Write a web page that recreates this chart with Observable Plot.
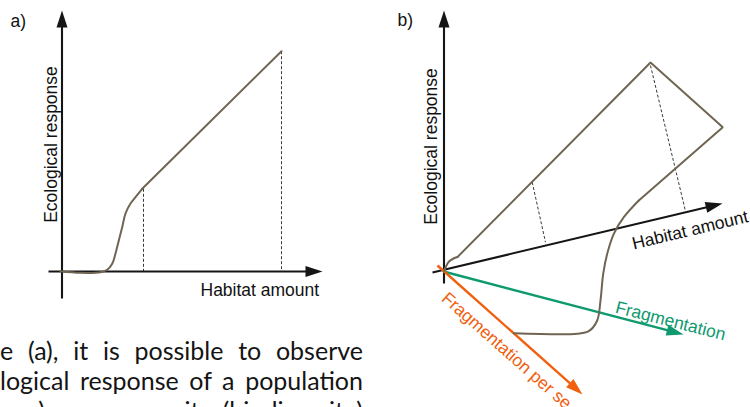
<!DOCTYPE html>
<html>
<head>
<meta charset="utf-8">
<script src="https://cdn.jsdelivr.net/npm/d3@7"></script>
<script src="https://cdn.jsdelivr.net/npm/@observablehq/plot@0.6"></script>
<style>
  html, body { margin: 0; padding: 0; background: #fff; }
  #wrap { position: relative; width: 750px; height: 407px; overflow: hidden; background: #fff; }
  #para { position: absolute; left: 0; top: 334.6px; width: 363px; font-family: Lato, "Noto Sans", sans-serif; font-size: 25px; line-height: 30px; color: #141414; }
  #para div { text-align: justify; text-align-last: justify; white-space: normal; height: 30px; }
</style>
</head>
<body>
<div id="wrap"></div>
<script>
// ---- Diagram data (diagram units) ----
// Axes: tail and tip
const axisNames = ["a-response", "a-habitat", "b-response", "b-habitat", "b-fragmentation", "b-fragperse"];
const axisX1 = [61.5, 48, 443.5, 432, 443, 437];
const axisY1 = [298, 271, 283, 272, 271, 265];
const axisX2 = [61.5, 322, 443.5, 722, 683, 582];
const axisY2 = [10, 271, 10, 203, 334, 394];

// Panel (a): sigmoid response then linear rise
const aSigX = [60, 80, 100, 106.7, 111.7, 115, 118.3, 121.7, 125, 130, 135, 141.7];
const aSigY = [270.7, 272.3, 271.7, 269.3, 263.3, 253, 240, 226.7, 213, 203, 196.7, 188.3];
const aLinX = [141.7, 281];
const aLinY = [188.3, 50.7];
const aDropX = [143, 143, 281, 281];
const aDropY = [188.3, 271, 50.7, 271];

// Panel (b): response surface outline
const bStartX = [443.5, 445.5, 448.5, 453, 457];
const bStartY = [271, 266, 261, 258, 256.5];
const bEdgeX = [457, 650, 722.3, 638.3];
const bEdgeY = [256.5, 62, 126.7, 200];
const bLowX = [638.3, 623.3, 613.3, 606.7, 602.7, 600, 596.7, 588.3, 576.7, 513.3];
const bLowY = [200, 216.7, 233.3, 253.3, 273.3, 300, 320, 330.7, 333.3, 332.7];
const bDropX = [531.7, 545, 650, 685];
const bDropY = [181.7, 241.7, 65, 210.7];

// Labels
const panelLabels = ["a)", "b)"];
const labelText = ["Ecological response", "Habitat amount", "Ecological response", "Habitat amount", "Fragmentation", "Fragmentation per se"];
const paragraphLines = ["e (a), it is possible to observe", "logical response of a population", "nce) or community (biodiversity)"];

// ---- Build tables ----
const axisColor = {"a-response": "#151515", "a-habitat": "#151515", "b-response": "#151515", "b-habitat": "#151515", "b-fragmentation": "#0e9a6e", "b-fragperse": "#f0600f"};
const HEAD_L = 17, HEAD_W = 5.5;
const axes = axisNames.map((n, i) => {
  const dx = axisX2[i] - axisX1[i], dy = axisY2[i] - axisY1[i];
  const len = Math.hypot(dx, dy), ux = dx / len, uy = dy / len;
  return {n, x1: axisX1[i], y1: axisY1[i], x2: axisX2[i], y2: axisY2[i], ux, uy};
});
const axisShafts = axes.map(a => ({n: a.n, x1: a.x1, y1: a.y1, x2: a.x2 - a.ux * (HEAD_L - 3), y2: a.y2 - a.uy * (HEAD_L - 3)}));
const heads = axes.flatMap(a => {
  const bx = a.x2 - a.ux * HEAD_L, by = a.y2 - a.uy * HEAD_L;
  const px = -a.uy, py = a.ux;
  return [
    {n: a.n, x: a.x2, y: a.y2},
    {n: a.n, x: bx + px * HEAD_W, y: by + py * HEAD_W},
    {n: a.n, x: bx - px * HEAD_W, y: by - py * HEAD_W}
  ];
});
const pts = (xs, ys) => xs.map((x, i) => ({x, y: ys[i]}));
const pairs = (xs, ys) => d3.range(0, xs.length, 2).map(i => ({x1: xs[i], y1: ys[i], x2: xs[i + 1], y2: ys[i + 1]}));

const labels = [
  {t: labelText[0], x: 56.7, y: 144, rotate: -90, anchor: "middle", color: "#111"},
  {t: labelText[1], x: 200, y: 295.7, rotate: 0, anchor: "start", color: "#111"},
  {t: labelText[2], x: 436.7, y: 146, rotate: -90, anchor: "middle", color: "#111"},
  {t: labelText[3], x: 633.3, y: 249, rotate: -13.5, anchor: "start", color: "#111"},
  {t: labelText[4], x: 614, y: 312, rotate: 14.3, anchor: "start", color: "#0e9a6e"},
  {t: labelText[5], x: 440, y: 299.5, rotate: 41.4, anchor: "start", color: "#f0600f"},
  {t: panelLabels[0], x: 10, y: 26, rotate: 0, anchor: "start", color: "#111"},
  {t: panelLabels[1], x: 397, y: 25.5, rotate: 0, anchor: "start", color: "#111"}
];

const brown = "#6f6552";
const FONT = "'Liberation Sans', Arial, sans-serif";

const chart = Plot.plot({
  width: 750,
  height: 407,
  margin: 0,
  x: {domain: [0, 750], range: [0, 750], axis: null},
  y: {domain: [0, 407], range: [0, 407], axis: null},
  style: {background: "transparent", overflow: "visible"},
  marks: [
    Plot.link(pairs(aDropX, aDropY), {x1: "x1", y1: "y1", x2: "x2", y2: "y2", stroke: "#222", strokeWidth: 0.9, strokeDasharray: "3,2"}),
    Plot.link(pairs(bDropX, bDropY), {x1: "x1", y1: "y1", x2: "x2", y2: "y2", stroke: "#222", strokeWidth: 0.9, strokeDasharray: "3,2"}),
    Plot.link(axisShafts, {x1: "x1", y1: "y1", x2: "x2", y2: "y2", stroke: d => axisColor[d.n], strokeWidth: d => d.n.startsWith("b-frag") ? 2.4 : 2.1}),
    Plot.line(heads, {x: "x", y: "y", z: "n", fill: d => axisColor[d.n], stroke: "none"}),
    Plot.line(pts(aSigX, aSigY), {x: "x", y: "y", stroke: brown, strokeWidth: 2, curve: "catmull-rom"}),
    Plot.line(pts(aLinX, aLinY), {x: "x", y: "y", stroke: brown, strokeWidth: 2}),
    Plot.line(pts(bStartX, bStartY), {x: "x", y: "y", stroke: brown, strokeWidth: 2, curve: "catmull-rom"}),
    Plot.line(pts(bEdgeX, bEdgeY), {x: "x", y: "y", stroke: brown, strokeWidth: 2, strokeLinejoin: "miter"}),
    Plot.line(pts(bLowX, bLowY), {x: "x", y: "y", stroke: brown, strokeWidth: 2, curve: "catmull-rom"}),
    ...labels.map(l => Plot.text([l], {x: "x", y: "y", text: "t", rotate: l.rotate, textAnchor: l.anchor, lineAnchor: "bottom", fill: l.color, fontSize: 17.5, fontFamily: FONT}))
  ]
});

const wrap = document.getElementById("wrap");
wrap.appendChild(chart);
const para = document.createElement("div");
para.id = "para";
paragraphLines.forEach(s => {
  const d = document.createElement("div");
  d.textContent = s;
  para.appendChild(d);
});
wrap.appendChild(para);
</script>
</body>
</html>
